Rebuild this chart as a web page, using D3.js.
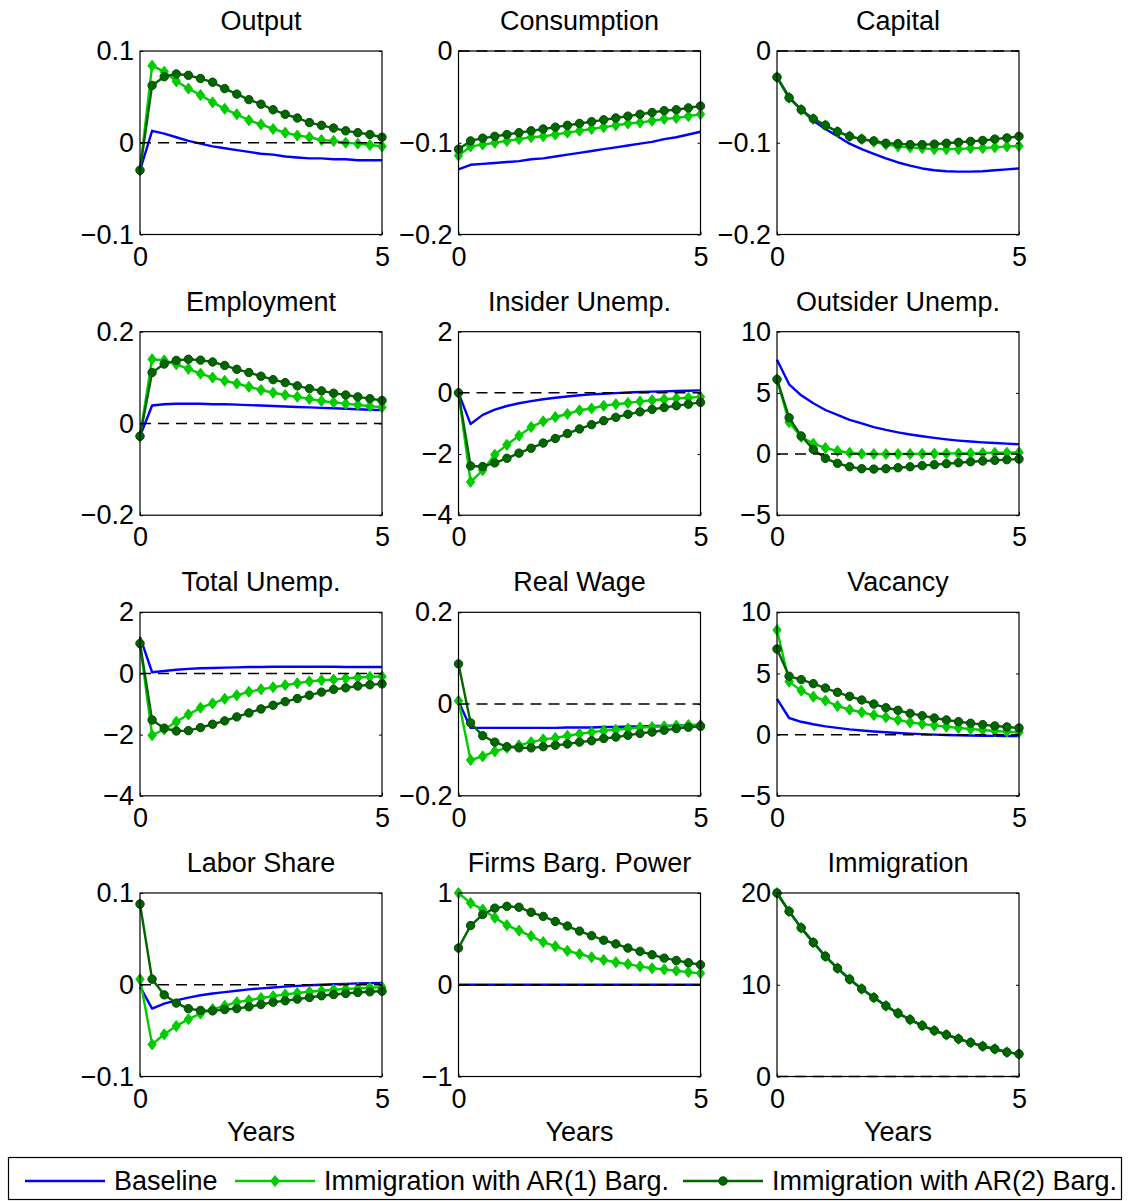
<!DOCTYPE html>
<html>
<head>
<meta charset="utf-8">
<script src="https://cdn.jsdelivr.net/npm/d3@7"></script>
<style>
	body { margin: 0; background: #fff; }
	svg text { font-family: "Liberation Sans", Arial, sans-serif; fill: #000; }
</style>
</head>
<body>
<svg id="chart" width="1128" height="1201"></svg>
<script>
// quarters, 0..5 years
var years = d3.range(21).map(function(i) { return i / 4; });

var titles = ['Output', 'Consumption', 'Capital', 'Employment', 'Insider Unemp.', 'Outsider Unemp.',
	'Total Unemp.', 'Real Wage', 'Vacancy', 'Labor Share', 'Firms Barg. Power', 'Immigration'];

var yTicks = [[-0.1, 0, 0.1], [-0.2, -0.1, 0], [-0.2, -0.1, 0], [-0.2, 0, 0.2], [-4, -2, 0, 2], [-5, 0, 5, 10],
	[-4, -2, 0, 2], [-0.2, 0, 0.2], [-5, 0, 5, 10], [-0.1, 0, 0.1], [-1, 0, 1], [0, 10, 20]];

var xTicks = [0, 5];

var legendNames = ['Baseline', 'Immigration with AR(1) Barg.', 'Immigration with AR(2) Barg.'];

// series: baseline, AR(1) bargaining, AR(2) bargaining
var outputBase = [-0.03, 0.013, 0.010, 0.006, 0.002, -0.001, -0.004, -0.006, -0.008, -0.010, -0.012, -0.013, -0.015, -0.016, -0.017, -0.017, -0.018, -0.018, -0.019, -0.019, -0.019];
var outputAR1 = [-0.03, 0.084, 0.0775, 0.067, 0.059, 0.052, 0.044, 0.037, 0.031, 0.0245, 0.020, 0.015, 0.011, 0.008, 0.006, 0.003, 0.002, 0.0, -0.001, -0.0025, -0.004];
var outputAR2 = [-0.03, 0.0625, 0.072, 0.075, 0.0735, 0.070, 0.066, 0.059, 0.053, 0.047, 0.042, 0.036, 0.031, 0.027, 0.022, 0.019, 0.016, 0.013, 0.011, 0.009, 0.006];

var consBase = [-0.129, -0.124, -0.123, -0.122, -0.121, -0.120, -0.118, -0.117, -0.115, -0.113, -0.111, -0.109, -0.107, -0.105, -0.103, -0.101, -0.099, -0.096, -0.094, -0.091, -0.088];
var consAR1 = [-0.114, -0.104, -0.102, -0.100, -0.098, -0.096, -0.094, -0.093, -0.091, -0.089, -0.087, -0.085, -0.083, -0.081, -0.079, -0.078, -0.076, -0.074, -0.073, -0.071, -0.069];
var consAR2 = [-0.107, -0.098, -0.095, -0.093, -0.091, -0.089, -0.087, -0.085, -0.083, -0.081, -0.079, -0.077, -0.075, -0.073, -0.071, -0.069, -0.067, -0.065, -0.064, -0.062, -0.060];

var capBase = [-0.0285, -0.050, -0.064, -0.076, -0.085, -0.093, -0.101, -0.107, -0.112, -0.117, -0.1215, -0.125, -0.128, -0.130, -0.131, -0.1315, -0.1315, -0.131, -0.130, -0.129, -0.128];
var capAR1 = [-0.0285, -0.051, -0.064, -0.074, -0.081, -0.088, -0.093, -0.096, -0.099, -0.102, -0.104, -0.105, -0.106, -0.107, -0.107, -0.107, -0.106, -0.1058, -0.105, -0.104, -0.1035];
var capAR2 = [-0.0285, -0.051, -0.064, -0.074, -0.081, -0.088, -0.093, -0.096, -0.098, -0.1005, -0.101, -0.102, -0.102, -0.1015, -0.1005, -0.0995, -0.0985, -0.0975, -0.096, -0.0947, -0.093];

var empBase = [-0.028, 0.039, 0.042, 0.043, 0.043, 0.043, 0.042, 0.042, 0.041, 0.040, 0.039, 0.038, 0.037, 0.036, 0.035, 0.034, 0.033, 0.032, 0.031, 0.030, 0.029];
var empAR1 = [-0.028, 0.140, 0.1375, 0.129, 0.119, 0.1085, 0.100, 0.093, 0.087, 0.080, 0.073, 0.067, 0.062, 0.058, 0.0535, 0.049, 0.046, 0.043, 0.0405, 0.0375, 0.0355];
var empAR2 = [-0.028, 0.111, 0.1295, 0.1375, 0.140, 0.138, 0.134, 0.1265, 0.118, 0.111, 0.103, 0.0955, 0.089, 0.082, 0.076, 0.071, 0.066, 0.062, 0.058, 0.054, 0.050];

var insBase = [0, -1.02, -0.72, -0.55, -0.43, -0.34, -0.27, -0.21, -0.16, -0.12, -0.08, -0.05, -0.03, -0.01, 0.01, 0.03, 0.04, 0.05, 0.06, 0.07, 0.08];
var insAR1 = [0, -2.91, -2.53, -2.02, -1.70, -1.40, -1.12, -0.93, -0.79, -0.69, -0.57, -0.51, -0.42, -0.37, -0.33, -0.28, -0.24, -0.21, -0.18, -0.16, -0.13];
var insAR2 = [0, -2.39, -2.41, -2.29, -2.14, -1.97, -1.81, -1.64, -1.49, -1.33, -1.18, -1.04, -0.91, -0.80, -0.70, -0.62, -0.54, -0.48, -0.42, -0.37, -0.31];

var outBase = [7.7, 5.7, 4.8, 4.15, 3.6, 3.2, 2.8, 2.5, 2.2, 1.97, 1.77, 1.6, 1.45, 1.32, 1.2, 1.1, 1.02, 0.95, 0.9, 0.85, 0.8];
var outAR1 = [6.1, 2.6, 1.4, 0.85, 0.5, 0.25, 0.1, 0.02, 0.0, 0.0, 0.0, 0.01, 0.02, 0.03, 0.04, 0.05, 0.07, 0.08, 0.1, 0.11, 0.13];
var outAR2 = [6.1, 2.97, 1.47, 0.38, -0.35, -0.76, -1.04, -1.2, -1.23, -1.2, -1.12, -1.04, -0.95, -0.87, -0.79, -0.71, -0.63, -0.57, -0.52, -0.46, -0.41];

var totBase = [1.2, 0.04, 0.08, 0.12, 0.15, 0.17, 0.18, 0.19, 0.2, 0.21, 0.21, 0.22, 0.22, 0.22, 0.22, 0.22, 0.22, 0.21, 0.21, 0.21, 0.21];
var totAR1 = [0.98, -2.02, -1.83, -1.58, -1.34, -1.12, -0.98, -0.83, -0.71, -0.6, -0.52, -0.45, -0.38, -0.32, -0.26, -0.22, -0.2, -0.16, -0.13, -0.11, -0.1];
var totAR2 = [0.98, -1.52, -1.79, -1.88, -1.87, -1.77, -1.66, -1.55, -1.42, -1.29, -1.16, -1.04, -0.92, -0.82, -0.71, -0.61, -0.52, -0.47, -0.41, -0.37, -0.34];

var wageBase = [0.006, -0.052, -0.052, -0.052, -0.052, -0.052, -0.052, -0.052, -0.052, -0.051, -0.051, -0.051, -0.050, -0.050, -0.049, -0.049, -0.048, -0.048, -0.047, -0.046, -0.046];
var wageAR1 = [0.007, -0.122, -0.114, -0.103, -0.095, -0.090, -0.083, -0.077, -0.074, -0.069, -0.065, -0.0615, -0.058, -0.056, -0.0535, -0.051, -0.050, -0.0485, -0.047, -0.0455, -0.045];
var wageAR2 = [0.0875, -0.041, -0.069, -0.083, -0.093, -0.0955, -0.0955, -0.093, -0.090, -0.087, -0.083, -0.080, -0.075, -0.072, -0.068, -0.064, -0.061, -0.057, -0.0535, -0.0505, -0.0485];

var vacBase = [2.92, 1.36, 1.05, 0.85, 0.68, 0.55, 0.43, 0.34, 0.26, 0.19, 0.13, 0.08, 0.04, 0.0, -0.03, -0.05, -0.07, -0.09, -0.1, -0.11, -0.12];
var vacAR1 = [8.55, 4.33, 3.6, 3.1, 2.78, 2.34, 2.04, 1.83, 1.6, 1.42, 1.2, 1.0, 0.87, 0.76, 0.65, 0.54, 0.46, 0.38, 0.3, 0.25, 0.19];
var vacAR2 = [7.0, 4.77, 4.5, 4.17, 3.81, 3.46, 3.13, 2.83, 2.5, 2.2, 1.99, 1.74, 1.55, 1.36, 1.2, 1.06, 0.93, 0.82, 0.71, 0.63, 0.54];

var labBase = [-0.002, -0.026, -0.0205, -0.017, -0.014, -0.0115, -0.0095, -0.008, -0.0065, -0.005, -0.004, -0.003, -0.002, -0.0012, -0.0005, 0.0, 0.0005, 0.001, 0.0015, 0.0018, 0.002];
var labAR1 = [0.006, -0.065, -0.054, -0.045, -0.0375, -0.0315, -0.0265, -0.023, -0.019, -0.017, -0.0145, -0.0125, -0.0105, -0.009, -0.0077, -0.0066, -0.0055, -0.0047, -0.004, -0.0033, -0.0026];
var labAR2 = [0.088, 0.006, -0.011, -0.020, -0.026, -0.028, -0.0285, -0.027, -0.026, -0.024, -0.0215, -0.019, -0.0175, -0.0157, -0.0139, -0.012, -0.0106, -0.0095, -0.0084, -0.0077, -0.007];

var bargBase = [0, 0, 0, 0, 0, 0, 0, 0, 0, 0, 0, 0, 0, 0, 0, 0, 0, 0, 0, 0, 0];
var bargAR1 = [1.0, 0.89, 0.82, 0.73, 0.65, 0.59, 0.53, 0.465, 0.42, 0.37, 0.335, 0.30, 0.27, 0.245, 0.225, 0.20, 0.18, 0.167, 0.153, 0.138, 0.124];
var bargAR2 = [0.40, 0.645, 0.765, 0.835, 0.855, 0.845, 0.79, 0.745, 0.69, 0.64, 0.585, 0.535, 0.485, 0.445, 0.40, 0.364, 0.327, 0.29, 0.265, 0.24, 0.218];

var immBase = [20, 18.0, 16.2, 14.6, 13.1, 11.8, 10.6, 9.55, 8.6, 7.7, 6.9, 6.2, 5.55, 5.0, 4.55, 4.1, 3.7, 3.3, 3.0, 2.65, 2.45];
var immAR1 = [20, 18.0, 16.2, 14.6, 13.1, 11.8, 10.6, 9.55, 8.6, 7.7, 6.9, 6.2, 5.55, 5.0, 4.55, 4.1, 3.7, 3.3, 3.0, 2.65, 2.45];
var immAR2 = [20, 18.0, 16.2, 14.6, 13.1, 11.8, 10.6, 9.55, 8.6, 7.7, 6.9, 6.2, 5.55, 5.0, 4.55, 4.1, 3.7, 3.3, 3.0, 2.65, 2.45];

var panelSeries = [
	[outputBase, outputAR1, outputAR2], [consBase, consAR1, consAR2], [capBase, capAR1, capAR2],
	[empBase, empAR1, empAR2], [insBase, insAR1, insAR2], [outBase, outAR1, outAR2],
	[totBase, totAR1, totAR2], [wageBase, wageAR1, wageAR2], [vacBase, vacAR1, vacAR2],
	[labBase, labAR1, labAR2], [bargBase, bargAR1, bargAR2], [immBase, immAR1, immAR2]
];

var colors = ['#0000ff', '#00cc00', '#006600'];
var colLeft = [140, 458.5, 777];
var rowTop = [51, 331.7, 612.3, 893];
var plotW = 242, plotH = 183.5;
var fontSize = 27;

var svg = d3.select('#chart');

function minusFormat(d) {
	return d < 0 ? '\u2212' + Math.abs(d) : String(d);
}

var diamond = 'M0,-5.5L4.2,0L0,5.5L-4.2,0Z';

function drawMarker(g, kind, color, x, y) {
	if (kind === 1) {
		g.append('path').attr('d', diamond)
			.attr('transform', 'translate(' + x + ',' + y + ')')
			.attr('fill', color).attr('stroke', color).attr('stroke-width', 1);
	} else if (kind === 2) {
		g.append('circle').attr('cx', x).attr('cy', y).attr('r', 4.2)
			.attr('fill', color).attr('stroke', '#004d00').attr('stroke-width', 1);
	}
}

titles.forEach(function(title, p) {
	var left = colLeft[p % 3];
	var top = rowTop[Math.floor(p / 3)];
	var ticks = yTicks[p];
	var x = d3.scaleLinear().domain([0, 5]).range([left, left + plotW]);
	var y = d3.scaleLinear().domain([ticks[0], ticks[ticks.length - 1]]).range([top + plotH, top]);
	var g = svg.append('g');

	//white box
	g.append('rect').attr('x', left).attr('y', top).attr('width', plotW).attr('height', plotH)
		.attr('fill', '#fff');

	var line = d3.line().x(function(d, i) { return x(years[i]); }).y(function(d) { return y(d); });

	panelSeries[p].forEach(function(series, s) {
		g.append('path').datum(series)
			.attr('d', line)
			.attr('fill', 'none')
			.attr('stroke', colors[s])
			.attr('stroke-width', 2.4)
			.attr('stroke-linejoin', 'round');
		if (s > 0) {
			series.forEach(function(v, i) {
				drawMarker(g, s, colors[s], x(years[i]), y(v));
			});
		}
	});

	// zero line
	g.append('line')
		.attr('x1', x(0)).attr('x2', x(5))
		.attr('y1', y(0)).attr('y2', y(0))
		.attr('stroke', '#000').attr('stroke-width', 1.5)
		.attr('stroke-dasharray', '11,7');

	var yAxis = g.append('g').attr('transform', 'translate(' + left + ',0)')
		.call(d3.axisLeft(y).tickValues(ticks).tickSize(-3).tickPadding(6).tickFormat(minusFormat));
	var yAxisR = g.append('g').attr('transform', 'translate(' + (left + plotW) + ',0)')
		.call(d3.axisRight(y).tickValues(ticks).tickSize(-3).tickFormat(''));
	var xAxis = g.append('g').attr('transform', 'translate(0,' + (top + plotH) + ')')
		.call(d3.axisBottom(x).tickValues(xTicks).tickSize(-3).tickPadding(12).tickFormat(d3.format('d')));

	[yAxis, yAxisR, xAxis].forEach(function(a) {
		a.select('.domain').remove();
		a.selectAll('line').attr('stroke', '#000');
		a.selectAll('text').attr('font-size', fontSize).attr('font-family', '"Liberation Sans", Arial, sans-serif').attr('fill', '#000');
	});

	g.append('rect').attr('x', left).attr('y', top).attr('width', plotW).attr('height', plotH)
		.attr('fill', 'none').attr('stroke', '#000').attr('stroke-width', 1.2);

	g.append('text')
		.attr('x', left + plotW / 2).attr('y', top - 21)
		.attr('text-anchor', 'middle')
		.attr('font-size', fontSize)
		.text(title);

	if (Math.floor(p / 3) === 3) {
		g.append('text')
			.attr('x', left + plotW / 2).attr('y', 1141)
			.attr('text-anchor', 'middle')
			.attr('font-size', fontSize)
			.text('Years');
	}
});

// legend
var legend = svg.append('g');
legend.append('rect').attr('x', 8.5).attr('y', 1157.5).attr('width', 1113).attr('height', 42)
	.attr('fill', '#fff').attr('stroke', '#000').attr('stroke-width', 1.2);

var legendX = [25, 235, 683];
legendNames.forEach(function(name, i) {
	var lx = legendX[i];
	legend.append('line')
		.attr('x1', lx).attr('x2', lx + 80)
		.attr('y1', 1181).attr('y2', 1181)
		.attr('stroke', colors[i]).attr('stroke-width', 2.4);
	drawMarker(legend, i, colors[i], lx + 40, 1181);
	legend.append('text')
		.attr('x', lx + 89).attr('y', 1190)
		.attr('font-size', fontSize)
		.text(name);
});
</script>
</body>
</html>
